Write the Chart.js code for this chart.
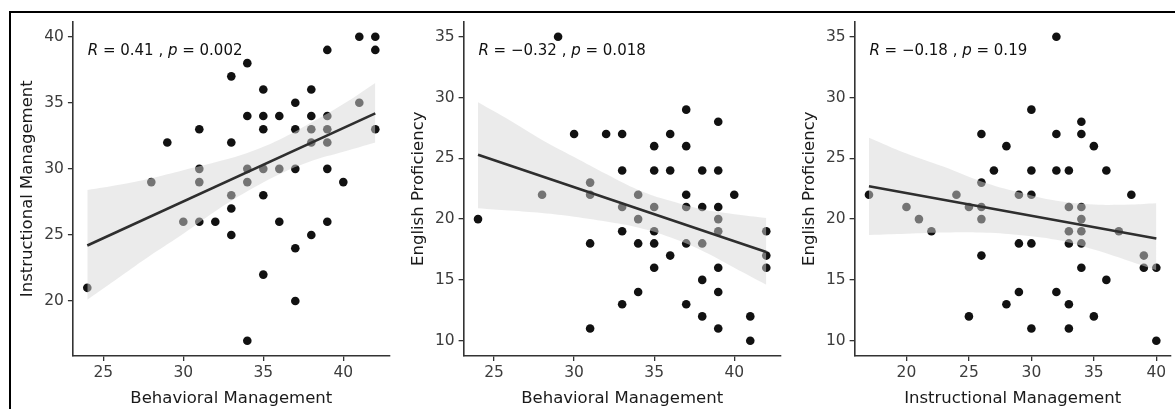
<!DOCTYPE html>
<html>
<head>
<meta charset="utf-8">
<script src="https://cdn.jsdelivr.net/npm/chart.js@4.4.1/dist/chart.umd.min.js"></script>
<style>
  body { margin: 0; background: #fff; }
  #wrap { position: relative; width: 1175px; height: 409px; overflow: hidden; background: #fff; }
  #wrap canvas { position: absolute; left: 0; top: 0; }
  #frame { position: absolute; left: 9px; top: 11px; right: -5px; bottom: -5px;
           border-top: 2px solid #000; border-left: 2px solid #000; }
</style>
</head>
<body>
<div id="wrap">
  <div id="frame"></div>
  <canvas id="c1" width="1175" height="409"></canvas>
  <canvas id="c2" width="1175" height="409"></canvas>
  <canvas id="c3" width="1175" height="409"></canvas>
</div>
<script>
// --- data ---
// panel 1 : Behavioral vs Instructional Management
const panel1Behavioral = [24,28,29,30,31,31,31,31,32,33,33,33,33,33,34,34,34,34,34,35,35,35,35,35,35,36,36,36,37,37,37,37,37,38,38,38,38,38,39,39,39,39,39,39,40,41,41,42,42,42];
const panel1Instructional = [21,29,32,26,33,30,29,26,26,37,32,28,27,25,38,34,30,29,17,36,34,33,30,28,22,34,30,26,35,33,30,24,20,36,34,33,32,25,39,34,33,32,30,26,29,40,35,40,39,33];
// panel 2 : Behavioral Management vs English Proficiency
const panel2Behavioral = [24,28,29,30,31,31,31,31,32,33,33,33,33,33,34,34,34,34,35,35,35,35,35,35,36,36,36,37,37,37,37,37,37,38,38,38,38,38,39,39,39,39,39,39,39,39,40,41,41,42,42,42];
const panel2English = [20,22,35,27,23,22,18,11,27,27,24,21,19,13,22,20,18,14,26,24,21,19,18,16,27,24,17,29,26,22,21,18,13,24,21,18,15,12,28,24,21,20,19,16,14,11,22,12,10,19,17,16];
// panel 3 : Instructional Management vs English Proficiency
const panel3Instructional = [17,20,21,22,24,25,25,26,26,26,26,26,27,28,28,29,29,29,30,30,30,30,30,32,32,32,32,33,33,33,33,33,33,34,34,34,34,34,34,34,35,35,36,36,37,38,39,39,40,40];
const panel3English = [22,21,20,19,22,21,12,27,23,21,20,17,24,26,13,22,18,14,29,24,22,18,11,35,27,24,14,24,21,19,18,13,11,28,27,21,20,19,18,16,26,12,24,15,19,22,17,16,16,10];

// fitted lines and confidence bands
const fit1X = [24, 42], fit1Y = [24.2, 34.2];
const band1X = [24,26,28,30,32,34,36,38,40,42];
const band1Upper = [28.4,28.8,29.3,29.9,30.5,31.2,32.2,33.5,34.9,36.5];
const band1Lower = [20.1,21.8,23.5,25.1,26.8,28.3,29.6,30.6,31.3,32.0];

const fit2X = [24, 42], fit2Y = [25.3, 17.3];
const band2X = [24,26,28,30,32,34,36,38,40,42];
const band2Upper = [29.6,28.1,26.5,25.1,23.7,22.4,21.5,20.8,20.4,20.1];
const band2Lower = [20.9,20.7,20.5,20.2,19.8,19.3,18.5,17.4,16.0,14.6];

const fit3X = [17, 40], fit3Y = [22.7, 18.4];
const band3X = [17,20,23,26,29,32,35,38,40];
const band3Upper = [26.7,25.4,24.3,23.1,22.2,21.5,21.2,21.2,21.3];
const band3Lower = [18.7,18.8,18.9,18.9,18.7,18.3,17.5,16.5,15.8];

// tick labels
const xTicks1 = [25, 30, 35, 40], yTicks1 = [20, 25, 30, 35, 40];
const xTicks2 = [25, 30, 35, 40], yTicks2 = [10, 15, 20, 25, 30, 35];
const xTicks3 = [20, 25, 30, 35, 40], yTicks3 = [10, 15, 20, 25, 30, 35];

// texts
const xTitles = ['Behavioral Management', 'Behavioral Management', 'Instructional Management'];
const yTitles = ['Instructional Management', 'English Proficiency', 'English Proficiency'];
const corR = ['0.41', '\u22120.32', '\u22120.18'];
const corP = ['0.002', '0.018', '0.19'];

// --- layout ---
const FONT = '"DejaVu Sans", sans-serif';
const PLOT_TOP = 21.5, PLOT_BOTTOM = 355.9;
const Y_AXIS_W = 60;
const X_AXIS_H = 409 - PLOT_BOTTOM;

const toPts = (xs, ys) => xs.map((v, i) => ({x: v, y: ys[i]}));

// R / p label drawn like ggpubr's stat_cor
const corLabel = {
  id: 'corLabel',
  afterDatasetsDraw(chart, args, opts) {
    const {ctx, chartArea} = chart;
    let x = chartArea.left + 14.8;
    const y = chartArea.top + 29.5;
    const parts = [['R', true], [' = ' + opts.r + ' , ', false], ['p', true], [' = ' + opts.p, false]];
    ctx.save();
    ctx.fillStyle = '#111';
    ctx.textBaseline = 'middle';
    ctx.textAlign = 'left';
    parts.forEach(([t, italic]) => {
      ctx.font = (italic ? 'italic ' : '') + '15px ' + FONT;
      ctx.fillText(t, x, y);
      x += ctx.measureText(t).width;
    });
    ctx.restore();
  }
};

function axis(min, max, ticks, title, vertical) {
  return {
    type: 'linear',
    min: min,
    max: max,
    afterBuildTicks: (a) => { a.ticks = ticks.map(v => ({value: v})); },
    afterFit: (a) => { if (vertical) a.width = Y_AXIS_W; else a.height = X_AXIS_H; },
    grid: { drawOnChartArea: false, drawTicks: true, tickLength: 5, color: '#333', lineWidth: 1.3 },
    border: { display: true, color: '#333', width: 1.6 },
    ticks: { font: { family: FONT, size: 15.5 }, color: '#3c3c3c', padding: vertical ? 4 : 3,
             autoSkip: false, maxRotation: 0 },
    title: { display: true, text: title, color: '#1a1a1a', font: { family: FONT, size: 16.5 },
             padding: vertical ? {top: 4.8, bottom: 0} : {top: 0, bottom: 0} }
  };
}

function makeChart(id, p) {
  new Chart(document.getElementById(id), {
    type: 'scatter',
    data: {
      datasets: [
        { type: 'line', data: toPts(p.fitX, p.fitY), borderColor: '#2e2e2e', borderWidth: 2.6,
          pointRadius: 0, fill: false, order: 1 },
        { type: 'line', data: toPts(p.bandX, p.upper), borderColor: 'transparent', borderWidth: 0,
          pointRadius: 0, tension: 0.4, fill: '+1', backgroundColor: 'rgba(215,215,215,0.5)', order: 2 },
        { type: 'line', data: toPts(p.bandX, p.lower), borderColor: 'transparent', borderWidth: 0,
          pointRadius: 0, tension: 0.4, fill: false, order: 2 },
        { data: toPts(p.x, p.y), backgroundColor: '#111', pointRadius: 4.3, pointHoverRadius: 4.3,
          borderWidth: 0, order: 3 }
      ]
    },
    options: {
      responsive: false,
      animation: false,
      devicePixelRatio: 1,
      events: [],
      layout: { padding: { left: p.left - Y_AXIS_W, right: 1175 - p.right, top: PLOT_TOP, bottom: 0 } },
      plugins: {
        legend: { display: false },
        tooltip: { enabled: false },
        corLabel: { r: p.r, p: p.p }
      },
      scales: {
        x: axis(p.xMin, p.xMax, p.xTicks, p.xTitle, false),
        y: axis(p.yMin, p.yMax, p.yTicks, p.yTitle, true)
      }
    },
    plugins: [corLabel]
  });
}

makeChart('c1', { x: panel1Behavioral, y: panel1Instructional, fitX: fit1X, fitY: fit1Y,
  bandX: band1X, upper: band1Upper, lower: band1Lower, xTicks: xTicks1, yTicks: yTicks1,
  xMin: 23.1, xMax: 42.9, yMin: 15.85, yMax: 41.15, left: 72.9, right: 389.7,
  xTitle: xTitles[0], yTitle: yTitles[0], r: corR[0], p: corP[0] });

makeChart('c2', { x: panel2Behavioral, y: panel2English, fitX: fit2X, fitY: fit2Y,
  bandX: band2X, upper: band2Upper, lower: band2Lower, xTicks: xTicks2, yTicks: yTicks2,
  xMin: 23.1, xMax: 42.9, yMin: 8.75, yMax: 36.25, left: 463.6, right: 780.7,
  xTitle: xTitles[1], yTitle: yTitles[1], r: corR[1], p: corP[1] });

makeChart('c3', { x: panel3Instructional, y: panel3English, fitX: fit3X, fitY: fit3Y,
  bandX: band3X, upper: band3Upper, lower: band3Lower, xTicks: xTicks3, yTicks: yTicks3,
  xMin: 15.85, xMax: 41.15, yMin: 8.75, yMax: 36.25, left: 854.6, right: 1172,
  xTitle: xTitles[2], yTitle: yTitles[2], r: corR[2], p: corP[2] });
</script>
</body>
</html>
